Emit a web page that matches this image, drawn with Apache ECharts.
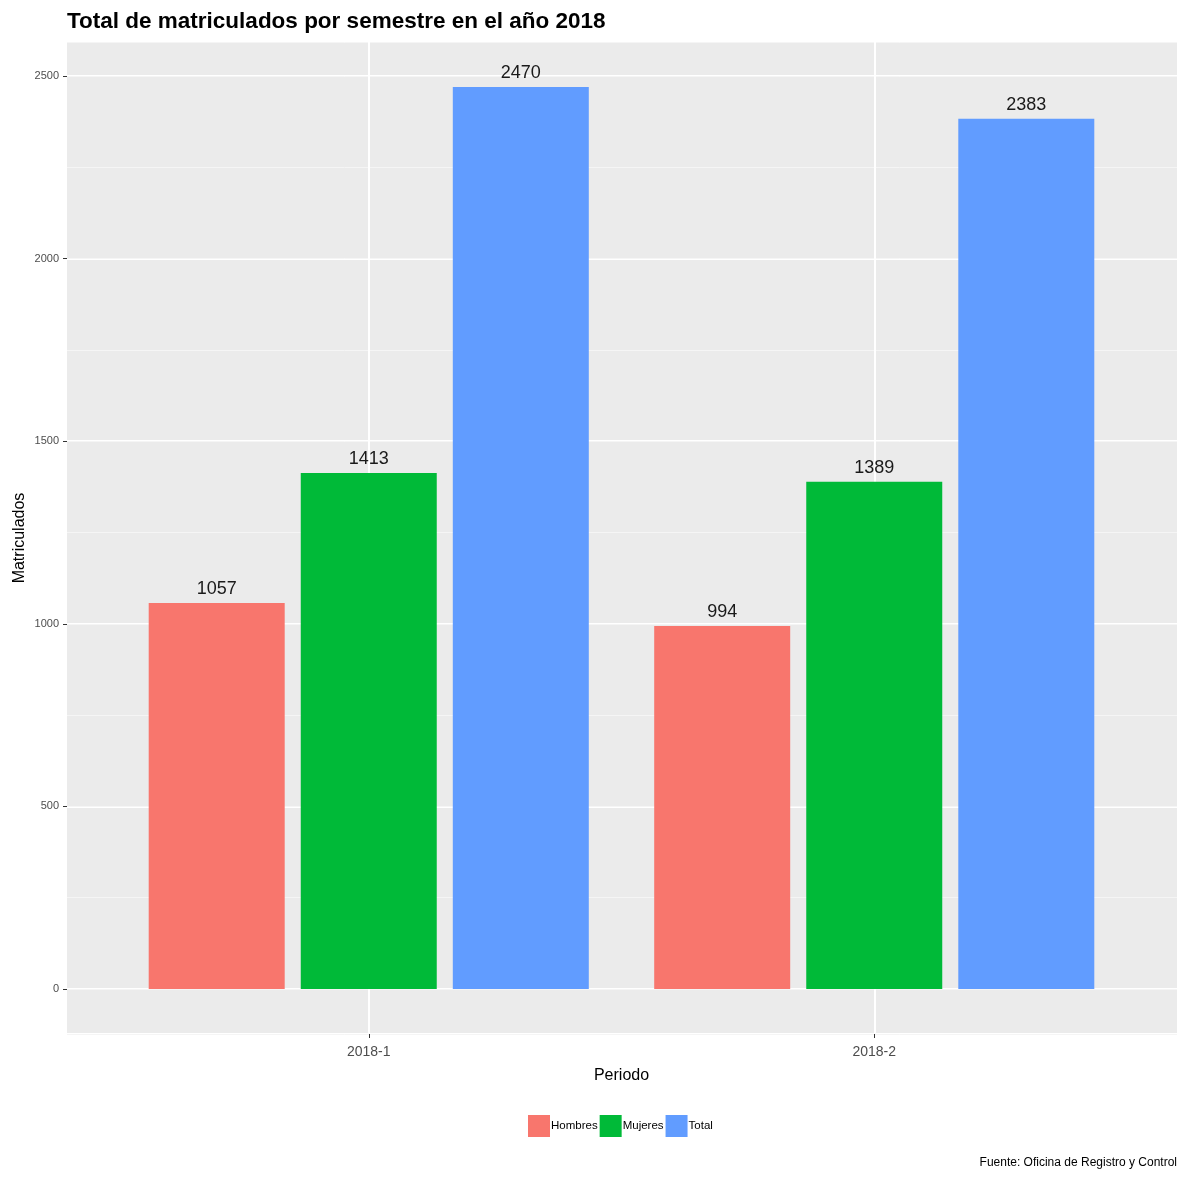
<!DOCTYPE html>
<html>
<head>
<meta charset="utf-8">
<script src="https://cdn.jsdelivr.net/npm/echarts@6/dist/echarts.min.js"></script>
<style>
html,body{margin:0;padding:0;background:#fff;}
#chart{width:1183px;height:1177px;}
</style>
</head>
<body>
<div id="chart"></div>
<script>
const categories = ['2018-1', '2018-2'];
const hombres = [1057, 994];
const mujeres = [1413, 1389];
const total = [2470, 2383];
const seriesNames = ['Hombres', 'Mujeres', 'Total'];
const colors = ['#F8766D', '#00BA38', '#619CFF'];

const yMin = -123.5, yMax = 2593.5;
const FONT = '"Liberation Sans", Arial, sans-serif';

const chart = echarts.init(document.getElementById('chart'), null, {renderer: 'canvas'});

function barSeries(name, data, color) {
  return {
    name: name, type: 'bar', xAxisIndex: 1, yAxisIndex: 2,
    data: data, barWidth: 136, barGap: '11.8%',
    itemStyle: {color: color},
    label: {show: true, position: 'top', distance: 5, color: '#1a1a1a', fontSize: 18, fontFamily: FONT},
    emphasis: {disabled: true}
  };
}

chart.setOption({
  animation: false,
  textStyle: {fontFamily: FONT},
  title: [{
    text: 'Total de matriculados por semestre en el año 2018',
    left: 67, top: 10, padding: 0,
    textStyle: {fontSize: 22.5, fontWeight: 'bold', color: '#000', fontFamily: FONT}
  }, {
    text: 'Fuente: Oficina de Registro y Control',
    right: 6, top: 1157, padding: 0,
    textStyle: {fontSize: 12, fontWeight: 'normal', color: '#000', fontFamily: FONT}
  }],
  legend: {
    top: 1115, left: 528, padding: 0,
    icon: 'rect', itemWidth: 22, itemHeight: 22, itemGap: 2,
    textStyle: {fontSize: 11.5, color: '#000', padding: [0, 0, 0, -4]},
    data: seriesNames,
    selectedMode: false
  },
  grid: [
    {left: 67, right: 6, top: 42, bottom: 143, show: true, backgroundColor: '#EBEBEB', borderWidth: 0, containLabel: false},
    {left: 116, right: 56, top: 42, bottom: 143, containLabel: false}
  ],
  xAxis: [
    {gridIndex: 0, type: 'value', min: 0, max: 1, show: false},
    {gridIndex: 1, type: 'category', data: categories, position: 'bottom',
     axisLine: {show: false, onZero: false},
     axisTick: {show: true, alignWithLabel: true, length: 4, lineStyle: {color: '#333'}},
     axisLabel: {margin: 11, fontSize: 14, color: '#4d4d4d'},
     splitLine: {show: true, alignWithLabel: true, lineStyle: {color: '#fff', width: 2}},
     name: 'Periodo', nameLocation: 'middle', nameGap: 34, nameMoveOverlap: false,
     nameTextStyle: {fontSize: 16, color: '#000'}
    }
  ],
  yAxis: [
    {gridIndex: 0, type: 'value', min: yMin, max: yMax, minInterval: 500, maxInterval: 500,
     axisLine: {show: false, onZero: false},
     axisTick: {show: true, length: 4, lineStyle: {color: '#333'}},
     axisLabel: {margin: 8, fontSize: 11, color: '#4d4d4d', showMinLabel: false, showMaxLabel: false,
                 formatter: function (v) { return String(v); }},
     splitLine: {show: true, lineStyle: {color: '#fff', width: 2}},
     name: 'Matriculados', nameLocation: 'middle', nameGap: 39, nameRotate: 90, nameMoveOverlap: false,
     nameTextStyle: {fontSize: 16, color: '#000'}
    },
    {gridIndex: 0, type: 'value', min: yMin, max: yMax, minInterval: 250, maxInterval: 250, position: 'left',
     axisLine: {show: false, onZero: false}, axisTick: {show: false}, axisLabel: {show: false},
     splitLine: {show: true, lineStyle: {color: '#F5F5F5', width: 1}}
    },
    {gridIndex: 1, type: 'value', min: yMin, max: yMax, show: false}
  ],
  series: [
    barSeries(seriesNames[0], hombres, colors[0]),
    barSeries(seriesNames[1], mujeres, colors[1]),
    barSeries(seriesNames[2], total, colors[2])
  ]
});
</script>
</body>
</html>
